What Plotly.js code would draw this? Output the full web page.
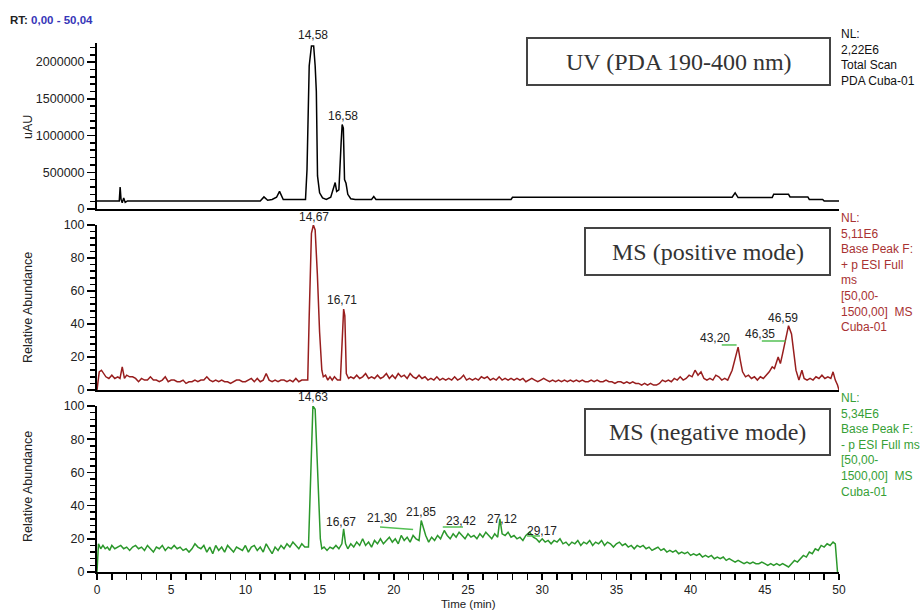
<!DOCTYPE html>
<html>
<head>
<meta charset="utf-8">
<script src="https://cdn.plot.ly/plotly-3.0.1.min.js"></script>
<style>html,body{margin:0;padding:0;background:#fff;}#chart{width:921px;height:610px;}</style>
</head>
<body>
<div id="chart"></div>
<script>
// ---------------- DATA ----------------
// UV (PDA 190-400 nm), uAU
var uvTime = [0.00,1.50,1.56,1.62,1.70,1.80,1.90,2.05,11.00,11.25,11.50,11.80,12.10,12.30,12.55,14.05,14.15,14.30,14.45,14.60,14.70,14.78,14.86,15.00,15.20,15.45,15.75,15.95,16.05,16.15,16.30,16.45,16.52,16.60,16.68,16.78,16.90,17.10,17.40,18.50,18.65,18.80,27.90,28.00,42.80,43.00,43.20,45.50,45.60,46.60,46.70,47.90,48.00,48.90,49.00,50.00];
var uvSignal = [110000,110000,300000,130000,85000,150000,90000,110000,110000,165000,120000,130000,160000,240000,130000,130000,530000,1950000,2220000,2220000,1950000,1600000,450000,220000,150000,130000,160000,300000,360000,240000,260000,900000,1150000,1100000,400000,350000,200000,140000,130000,130000,170000,130000,130000,160000,160000,220000,155000,155000,200000,200000,165000,165000,130000,130000,110000,110000];

// MS positive mode, relative abundance
var msPosTime = [
0.00,0.15,0.30,0.45,0.60,0.80,1.00,1.20,1.40,1.55,
1.70,1.85,2.00,2.20,2.40,2.60,2.80,3.00,3.20,3.40,
3.60,3.80,4.00,4.20,4.40,4.60,4.80,5.00,5.20,5.40,
5.60,5.80,6.00,6.20,6.40,6.60,6.80,7.00,7.20,7.40,
7.60,7.80,8.00,8.20,8.40,8.60,8.80,9.00,9.20,9.40,
9.60,9.80,10.00,10.20,10.40,10.60,10.80,11.00,11.20,11.40,
11.60,11.80,12.00,12.20,12.40,12.60,12.80,13.00,13.20,13.40,
13.60,13.80,14.00,14.20,14.30,14.45,14.58,14.70,14.85,15.00,
15.15,15.25,15.40,15.55,15.70,15.85,16.00,16.20,16.40,16.50,
16.62,16.70,16.80,16.95,17.10,17.30,17.50,17.70,17.90,18.10,
18.30,18.50,18.70,18.90,19.10,19.30,19.50,19.70,19.90,20.10,
20.30,20.50,20.70,20.90,21.10,21.30,21.50,21.70,21.90,22.10,
22.30,22.50,22.70,22.90,23.10,23.30,23.50,23.70,23.90,24.10,
24.30,24.50,24.70,24.90,25.10,25.30,25.50,25.70,25.90,26.10,
26.30,26.50,26.70,26.90,27.10,27.30,27.50,27.70,27.90,28.10,
28.30,28.50,28.70,28.90,29.10,29.30,29.50,29.70,29.90,30.10,
30.30,30.50,30.70,30.90,31.10,31.30,31.50,31.70,31.90,32.10,
32.30,32.50,32.70,32.90,33.10,33.30,33.50,33.70,33.90,34.10,
34.30,34.50,34.70,34.90,35.10,35.30,35.50,35.70,35.90,36.10,
36.30,36.50,36.70,36.90,37.10,37.30,37.50,37.70,37.90,38.10,
38.30,38.50,38.70,38.90,39.10,39.30,39.50,39.70,39.90,40.10,
40.30,40.50,40.70,40.90,41.10,41.30,41.50,41.70,41.90,42.10,
42.30,42.50,42.80,43.00,43.20,43.35,43.50,43.70,43.90,44.10,
44.30,44.50,44.70,44.90,45.10,45.30,45.50,45.65,45.90,46.05,
46.20,46.40,46.60,46.80,46.95,47.10,47.30,47.50,47.65,47.85,
48.05,48.25,48.45,48.65,48.85,49.05,49.25,49.45,49.60,49.75,
49.90,50.00];
var msPosAbund = [
0,11,12,10,8,7,9,7,8,7,
14,7,9,8,8,7,5,7,6,6,
8,6,6,5,6,8,5,6,6,5,
5,6,4,5,5,6,5,6,6,8,
6,5,6,5,6,5,5,4,5,6,
6,5,5,6,7,5,7,5,6,10,
6,5,6,5,6,6,5,6,5,7,
5,6,6,6,45,95,100,97,70,35,
12,8,9,6,8,6,8,6,6,25,
49,45,10,7,8,7,9,7,8,10,
7,8,7,9,7,8,10,7,9,7,
10,8,9,7,10,8,7,9,7,8,
6,7,6,8,6,7,6,7,6,8,
6,7,9,6,7,6,7,6,8,7,
8,6,7,6,8,6,7,6,7,6,
7,6,7,5,6,7,6,5,6,7,
6,5,6,5,6,5,6,5,6,5,
6,5,6,5,5,6,5,6,5,5,
6,5,5,4,5,5,4,5,4,5,
4,4,3,4,3,4,3,3,4,6,
5,6,5,7,6,8,6,7,9,8,
12,9,11,7,6,7,6,9,8,6,
7,6,12,20,26,18,11,8,9,7,
8,6,8,7,9,11,14,13,20,16,
22,30,39,34,22,12,6,12,7,6,
7,6,8,7,9,7,8,7,11,6,
3,0];

// MS negative mode, relative abundance
var msNegTime = [
0.00,0.10,0.25,0.40,0.55,0.70,0.85,1.00,1.20,1.40,
1.60,1.80,2.00,2.20,2.40,2.60,2.80,3.00,3.20,3.40,
3.60,3.80,4.00,4.20,4.40,4.60,4.80,5.00,5.20,5.40,
5.60,5.80,6.00,6.20,6.40,6.60,6.80,7.00,7.20,7.40,
7.60,7.80,8.00,8.20,8.40,8.60,8.80,9.00,9.20,9.40,
9.60,9.80,10.00,10.20,10.40,10.60,10.80,11.00,11.20,11.40,
11.60,11.80,12.00,12.20,12.40,12.60,12.80,13.00,13.20,13.40,
13.60,13.80,14.00,14.25,14.40,14.55,14.70,14.85,15.05,15.15,
15.30,15.50,15.70,15.90,16.10,16.30,16.50,16.62,16.75,16.90,
17.10,17.30,17.50,17.70,17.90,18.10,18.30,18.50,18.70,18.90,
19.10,19.30,19.50,19.70,19.90,20.10,20.30,20.50,20.70,20.90,
21.10,21.30,21.50,21.70,21.85,22.00,22.15,22.35,22.55,22.75,
22.95,23.15,23.40,23.60,23.80,24.00,24.20,24.40,24.60,24.80,
25.00,25.20,25.40,25.60,25.80,26.00,26.20,26.40,26.60,26.80,
27.00,27.15,27.30,27.50,27.70,27.90,28.10,28.30,28.50,28.70,
28.90,29.15,29.40,29.60,29.80,30.00,30.20,30.40,30.60,30.80,
31.00,31.20,31.40,31.60,31.80,32.00,32.20,32.40,32.60,32.80,
33.00,33.20,33.40,33.60,33.80,34.00,34.20,34.40,34.60,34.80,
35.00,35.20,35.40,35.60,35.80,36.00,36.20,36.40,36.60,36.80,
37.00,37.20,37.40,37.60,37.80,38.00,38.20,38.40,38.60,38.80,
39.00,39.20,39.40,39.60,39.80,40.00,40.20,40.40,40.60,40.80,
41.00,41.20,41.40,41.60,41.80,42.00,42.20,42.40,42.60,42.80,
43.00,43.20,43.40,43.60,43.80,44.00,44.20,44.40,44.60,44.80,
45.00,45.20,45.40,45.60,45.80,46.00,46.20,46.40,46.60,46.80,
47.00,47.20,47.40,47.60,47.80,48.00,48.20,48.40,48.60,48.80,
49.00,49.20,49.40,49.60,49.75,49.90];
var msNegAbund = [
0,17,14,16,14,15,13,16,14,15,
16,14,15,13,15,16,14,15,13,16,
14,12,15,14,16,13,15,14,16,14,
15,13,14,12,14,17,15,14,16,12,
15,11,16,13,15,12,16,14,12,15,
14,13,16,12,15,16,13,15,12,17,
14,11,15,13,16,14,17,15,18,16,
14,17,15,15,60,100,98,60,20,14,
15,13,15,14,16,14,17,26,17,14,
17,15,18,16,20,16,18,15,19,17,
20,17,19,21,18,20,17,22,19,21,
18,22,20,19,31,26,22,18,21,19,
22,20,25,22,20,23,21,24,22,20,
23,21,22,20,23,21,24,22,20,23,
21,32,23,22,24,21,22,20,21,19,
22,24,21,20,18,20,18,19,17,19,
18,20,17,18,16,18,17,19,16,18,
17,19,16,18,17,19,16,18,17,15,
17,18,16,17,15,16,14,16,15,16,
14,15,13,14,15,13,14,12,13,12,
13,11,12,11,12,10,11,10,11,9,
10,9,10,8,9,8,9,7,8,7,
6,7,6,5,6,5,6,5,5,6,
5,4,5,4,5,4,5,4,3,5,
7,6,8,10,9,12,11,14,13,16,
15,17,16,18,17,0];

// Peak labels (retention times as printed)
var uvPeakLabels = ['14,58','16,58'];
var msPosPeakLabels = ['14,67','16,71','43,20','46,35','46,59'];
var msNegPeakLabels = ['14,63','16,67','21,30','21,85','23,42','27,12','29,17'];

// Tick labels
var uvTickVals = [0,500000,1000000,1500000,2000000];
var uvTickText = ['0','500000','1000000','1500000','2000000'];
var relTickVals = [0,20,40,60,80,100];
var timeTickVals = [0,5,10,15,20,25,30,35,40,45,50];

// ---------------- LAYOUT HELPERS ----------------
var L = 97, R = 839, T = 43, B = 572;
function px(x){ return (x - L) / (R - L); }
function py(y){ return (B - y) / (B - T); }

var RED = '#981e1e', RED_T = '#a83232';
var GRN = '#2b982b', GRN_T = '#36a036';
var FONT = 'Liberation Sans, Arial, sans-serif';
var SERIF = 'Liberation Serif, Times New Roman, serif';

var traces = [
  {x: uvTime, y: uvSignal, xaxis: 'x3', yaxis: 'y3', type: 'scatter', mode: 'lines',
   line: {color: '#000', width: 1.5}, hoverinfo: 'skip'},
  {x: msPosTime, y: msPosAbund, xaxis: 'x2', yaxis: 'y2', type: 'scatter', mode: 'lines',
   line: {color: RED, width: 1.5}, hoverinfo: 'skip'},
  {x: msNegTime, y: msNegAbund, xaxis: 'x', yaxis: 'y', type: 'scatter', mode: 'lines',
   line: {color: GRN, width: 1.5}, hoverinfo: 'skip'}
];

var tickFont = {family: FONT, size: 12.5, color: '#222'};
var xTickFont = {family: FONT, size: 12, color: '#222'};

function yAx(domain, range, tv, tt, minorD){
  return {domain: domain, range: range, showgrid: false, zeroline: false,
    showline: true, linecolor: '#000', linewidth: 2,
    ticks: 'outside', ticklen: 8, tickwidth: 1.5, tickcolor: '#000',
    tickvals: tv, ticktext: tt, tickfont: tickFont,
    minor: {dtick: minorD, tick0: 0, ticks: 'outside', ticklen: 5, tickwidth: 1.5, tickcolor: '#000', showgrid: false},
    fixedrange: true};
}
function xAx(anchor, labels){
  var a = {anchor: anchor, range: [0, 50], showgrid: false, zeroline: false,
    showline: true, linecolor: '#000', linewidth: 2, fixedrange: true};
  if (labels){
    a.ticks = 'outside'; a.ticklen = 6; a.tickwidth = 1.5; a.tickcolor = '#000';
    a.tickvals = timeTickVals; a.tickfont = xTickFont;
    a.minor = {dtick: 1, tick0: 0, ticks: 'outside', ticklen: 6, tickwidth: 1.5, tickcolor: '#000', showgrid: false};
  } else {
    a.ticks = ''; a.showticklabels = false; a.matches = 'x';
  }
  return a;
}

function txt(x, y, text, opts){
  var a = {xref: 'paper', yref: 'paper', x: x, y: y, text: text, showarrow: false,
    font: {family: FONT, size: 12, color: '#222'}, xanchor: 'center', yanchor: 'middle'};
  for (var k in opts) a[k] = opts[k];
  return a;
}
function peak(xref, t, yPx, text){
  return {xref: xref, yref: 'paper', x: t, y: py(yPx), text: text, showarrow: false,
    font: {family: FONT, size: 12, color: '#222'}, xanchor: 'center', yanchor: 'middle'};
}

var annotations = [
  txt(px(8), py(20), 'RT: <span style="color:#3636b8">0,00 - 50,04</span>',
      {xanchor: 'left', font: {family: FONT, size: 11.5, color: '#222', weight: 'bold'}}),
  // box titles
  txt(px(678.5), py(61.5), 'UV (PDA 190-400 nm)', {font: {family: SERIF, size: 24, color: '#333'}}),
  txt(px(707.5), py(251.5), 'MS (positive mode)', {font: {family: SERIF, size: 24, color: '#333'}}),
  txt(px(707.5), py(432), 'MS (negative mode)', {font: {family: SERIF, size: 24, color: '#333'}}),
  // right side info
  txt(1.0, py(25), 'NL:<br>2,22E6<br>Total Scan<br>PDA Cuba-01',
      {xanchor: 'left', yanchor: 'top', align: 'left', font: {family: FONT, size: 12, color: '#111'}}),
  txt(1.0, py(209), 'NL:<br>5,11E6<br>Base Peak F:<br>+ p ESI Full<br>ms<br>[50,00-<br>1500,00]  MS<br>Cuba-01',
      {xanchor: 'left', yanchor: 'top', align: 'left', font: {family: FONT, size: 12, color: RED_T}}),
  txt(1.0, py(389), 'NL:<br>5,34E6<br>Base Peak F:<br>- p ESI Full ms<br>[50,00-<br>1500,00]  MS<br>Cuba-01',
      {xanchor: 'left', yanchor: 'top', align: 'left', font: {family: FONT, size: 12, color: GRN_T}}),
  // axis titles
  txt(px(28), py(127), 'uAU', {textangle: -90, font: {family: FONT, size: 12.5, color: '#222'}}),
  txt(px(28), py(308), 'Relative Abundance', {textangle: -90, font: {family: FONT, size: 12.5, color: '#222'}}),
  txt(px(28), py(487), 'Relative Abundance', {textangle: -90, font: {family: FONT, size: 12.5, color: '#222'}}),
  txt(0.5, py(604), 'Time (min)', {yanchor: 'middle', borderpad: 0, font: {family: FONT, size: 11.5, color: '#222'}}),
  // peak labels
  peak('x3', 14.56, 35, uvPeakLabels[0]),
  peak('x3', 16.56, 116, uvPeakLabels[1]),
  peak('x2', 14.62, 217, msPosPeakLabels[0]),
  peak('x2', 16.51, 300, msPosPeakLabels[1]),
  peak('x2', 41.64, 338, msPosPeakLabels[2]),
  peak('x2', 44.68, 334, msPosPeakLabels[3]),
  peak('x2', 46.23, 318, msPosPeakLabels[4]),
  peak('x', 14.56, 397, msNegPeakLabels[0]),
  peak('x', 16.44, 522, msNegPeakLabels[1]),
  peak('x', 19.20, 518, msNegPeakLabels[2]),
  peak('x', 21.83, 512, msNegPeakLabels[3]),
  peak('x', 24.53, 521, msNegPeakLabels[4]),
  peak('x', 27.29, 519, msNegPeakLabels[5]),
  peak('x', 29.99, 531, msNegPeakLabels[6])
];

var boxLine = {color: '#444', width: 2};
var shapes = [
  {type: 'rect', xref: 'paper', yref: 'paper', x0: px(527), x1: px(830), y0: py(85), y1: py(38), line: boxLine, fillcolor: 'rgba(0,0,0,0)'},
  {type: 'rect', xref: 'paper', yref: 'paper', x0: px(585), x1: px(830), y0: py(275), y1: py(228), line: boxLine, fillcolor: 'rgba(0,0,0,0)'},
  {type: 'rect', xref: 'paper', yref: 'paper', x0: px(585), x1: px(830), y0: py(455), y1: py(409), line: boxLine, fillcolor: 'rgba(0,0,0,0)'},
  // green label leader lines
  {type: 'line', xref: 'x2', yref: 'y2', x0: 42.1, x1: 43.1, y0: 27.3, y1: 27.3, line: {color: '#55c055', width: 1.5}},
  {type: 'line', xref: 'x2', yref: 'y2', x0: 44.8, x1: 46.4, y0: 29.7, y1: 29.7, line: {color: '#55c055', width: 1.5}},
  {type: 'line', xref: 'x', yref: 'y', x0: 19.07, x1: 21.3, y0: 27.1, y1: 25.6, line: {color: '#55c055', width: 1.5}},
  {type: 'line', xref: 'x', yref: 'y', x0: 23.3, x1: 24.66, y0: 27.1, y1: 27.1, line: {color: '#55c055', width: 1.5}},
  {type: 'line', xref: 'x', yref: 'y', x0: 28.98, x1: 29.85, y0: 21.7, y1: 21.7, line: {color: '#55c055', width: 1.5}}
];

var layout = {
  width: 921, height: 610,
  margin: {l: L, r: 921 - R, t: T, b: 610 - B, pad: 0},
  paper_bgcolor: '#fff', plot_bgcolor: '#fff',
  showlegend: false, hovermode: false,
  xaxis: xAx('y', true),
  xaxis2: xAx('y2', false),
  xaxis3: xAx('y3', false),
  yaxis: yAx([0, py(406)], [0, 100], relTickVals, relTickVals.map(String), 4),
  yaxis2: yAx([py(390), py(225)], [0, 100], relTickVals, relTickVals.map(String), 4),
  yaxis3: yAx([py(209), 1], [0, 2260000], uvTickVals, uvTickText, 100000),
  annotations: annotations,
  shapes: shapes
};

Plotly.newPlot('chart', traces, layout, {staticPlot: true, displayModeBar: false});
</script>
</body>
</html>
